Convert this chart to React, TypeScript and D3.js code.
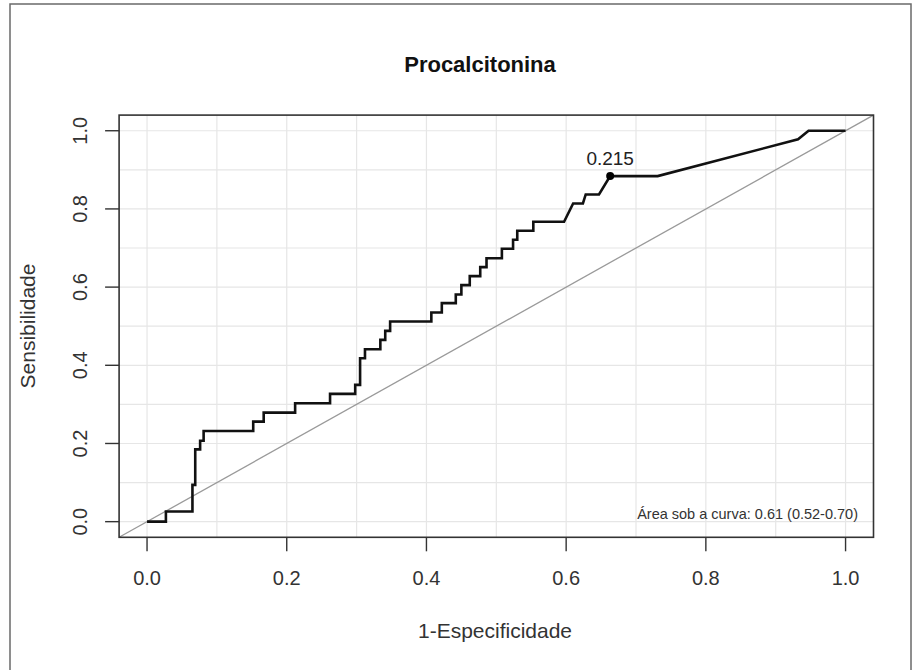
import React from 'react';
import * as d3 from 'd3';

// ROC curve (1 - specificity, sensitivity)
const fpr = [
  0, 0.027, 0.027, 0.065, 0.065, 0.069, 0.069, 0.076, 0.076, 0.081, 0.081,
  0.152, 0.152, 0.167, 0.167, 0.212, 0.212, 0.262, 0.262, 0.298, 0.298,
  0.305, 0.305, 0.312, 0.312, 0.334, 0.334, 0.341, 0.341, 0.348, 0.348,
  0.407, 0.407, 0.422, 0.422, 0.442, 0.442, 0.45, 0.45, 0.462, 0.462,
  0.477, 0.477, 0.486, 0.486, 0.508, 0.508, 0.524, 0.524, 0.53, 0.53,
  0.553, 0.553, 0.597, 0.61, 0.624, 0.628, 0.647, 0.663, 0.731, 0.932,
  0.947, 1.0,
];
const tpr = [
  0, 0, 0.026, 0.026, 0.094, 0.094, 0.185, 0.185, 0.207, 0.207, 0.232,
  0.232, 0.256, 0.256, 0.279, 0.279, 0.303, 0.303, 0.327, 0.327, 0.35,
  0.35, 0.418, 0.418, 0.441, 0.441, 0.465, 0.465, 0.488, 0.488, 0.512,
  0.512, 0.535, 0.535, 0.559, 0.559, 0.581, 0.581, 0.605, 0.605, 0.628,
  0.628, 0.651, 0.651, 0.674, 0.674, 0.698, 0.698, 0.721, 0.721, 0.744,
  0.744, 0.767, 0.767, 0.814, 0.814, 0.837, 0.837, 0.884, 0.884, 0.978,
  1.0, 1.0,
];

const cutoffPoint = [0.663, 0.884];
const cutoffLabel = '0.215';

const xTicks = [0, 0.2, 0.4, 0.6, 0.8, 1.0];
const yTicks = [0, 0.2, 0.4, 0.6, 0.8, 1.0];
const gridValues = [0, 0.1, 0.2, 0.3, 0.4, 0.5, 0.6, 0.7, 0.8, 0.9, 1.0];

const titleText = 'Procalcitonina';
const xLabel = '1-Especificidade';
const yLabel = 'Sensibilidade';
const aucText = 'Área sob a curva: 0.61 (0.52-0.70)';

const W = 918;
const H = 670;
const FONT = '"Liberation Sans", Arial, Helvetica, sans-serif';

export default function App() {
  const plotL = 119.1;
  const plotR = 873.5;
  const plotT = 115.1;
  const plotB = 537.3;

  const x = d3.scaleLinear().domain([-0.04, 1.04]).range([plotL, plotR]);
  const y = d3.scaleLinear().domain([-0.04, 1.04]).range([plotB, plotT]);

  const pts: [number, number][] = fpr.map((f, i) => [f, tpr[i]]);
  const line = d3
    .line<[number, number]>()
    .x((d) => x(d[0]))
    .y((d) => y(d[1]));

  const fmt = d3.format('.1f');

  return (
    <svg
      width={W}
      height={H}
      style={{ position: 'absolute', left: 0, top: 0, display: 'block', background: '#fff' }}
      fontFamily={FONT}
    >
      <rect x={0} y={0} width={W} height={H} fill="#fff" />
      {/* outer frame */}
      <rect x={10} y={4} width={901} height={720} fill="none" stroke="#6a6a6a" strokeWidth={1.5} />

      {/* grid */}
      <g stroke="#e6e6e6" strokeWidth={1.2}>
        {gridValues.map((v) => (
          <line key={'gx' + v} x1={x(v)} x2={x(v)} y1={plotT} y2={plotB} />
        ))}
        {gridValues.map((v) => (
          <line key={'gy' + v} x1={plotL} x2={plotR} y1={y(v)} y2={y(v)} />
        ))}
      </g>

      {/* diagonal reference */}
      <line x1={x(-0.04)} y1={y(-0.04)} x2={x(1.04)} y2={y(1.04)} stroke="#9a9a9a" strokeWidth={1.3} />

      {/* ROC curve */}
      <path d={line(pts) || ''} fill="none" stroke="#111" strokeWidth={2.6} strokeLinejoin="miter" />

      {/* cutoff point */}
      <circle cx={x(cutoffPoint[0])} cy={y(cutoffPoint[1])} r={4} fill="#000" />
      <text x={x(cutoffPoint[0])} y={y(cutoffPoint[1]) - 11} textAnchor="middle" fontSize={19} fill="#222">
        {cutoffLabel}
      </text>

      {/* box */}
      <rect x={plotL} y={plotT} width={plotR - plotL} height={plotB - plotT} fill="none" stroke="#333" strokeWidth={1.6} />

      {/* x axis */}
      <g stroke="#333" strokeWidth={1.4}>
        {xTicks.map((t) => (
          <line key={'xt' + t} x1={x(t)} x2={x(t)} y1={plotB} y2={plotB + 14} />
        ))}
      </g>
      {xTicks.map((t) => (
        <text key={'xl' + t} x={x(t)} y={585} textAnchor="middle" fontSize={20} fill="#333">
          {fmt(t)}
        </text>
      ))}

      {/* y axis */}
      <g stroke="#333" strokeWidth={1.4}>
        {yTicks.map((t) => (
          <line key={'yt' + t} x1={plotL} x2={plotL - 14} y1={y(t)} y2={y(t)} />
        ))}
      </g>
      {yTicks.map((t) => (
        <text
          key={'yl' + t}
          transform={`translate(${87},${y(t)}) rotate(-90)`}
          textAnchor="middle"
          fontSize={20}
          fill="#333"
        >
          {fmt(t)}
        </text>
      ))}

      {/* labels */}
      <text x={495} y={638} textAnchor="middle" fontSize={21} fill="#333">
        {xLabel}
      </text>
      <text transform={`translate(${35},${326}) rotate(-90)`} textAnchor="middle" fontSize={21} fill="#333">
        {yLabel}
      </text>
      <text x={480} y={72} textAnchor="middle" fontSize={22} fontWeight="bold" fill="#111">
        {titleText}
      </text>

      {/* AUC annotation */}
      <text x={858} y={519} textAnchor="end" fontSize={14.5} fill="#333">
        {aucText}
      </text>
    </svg>
  );
}
